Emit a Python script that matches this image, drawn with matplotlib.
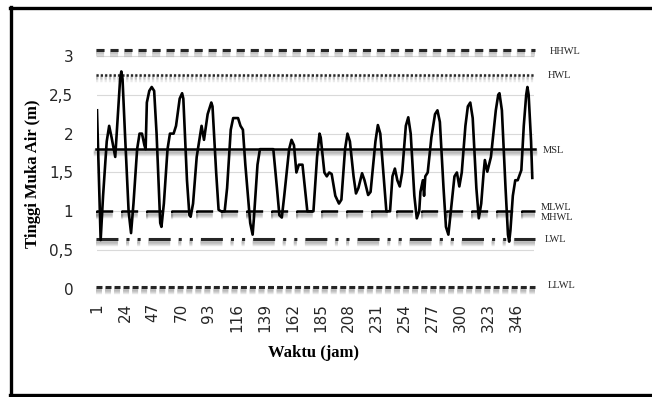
import numpy as np
import matplotlib.pyplot as plt
import matplotlib.patheffects as pe
from matplotlib.lines import Line2D

# tide record (hour, water level in m)
jam = [1, 4, 6, 9, 11, 13, 16, 18, 20, 21, 22, 24, 27, 29, 31, 34, 36, 38, 40, 41,
       42, 44, 46, 48, 50, 53, 54, 56, 59, 61, 64, 66, 69, 71, 72, 75, 77, 78, 80, 83,
       86, 87, 89, 92, 95, 96, 99, 101, 103, 106, 108, 111, 113, 117, 119, 121, 123, 127, 129, 130,
       133, 135, 146, 149, 151, 153, 155, 159, 161, 163, 165, 167, 170, 172, 174, 179, 182, 184, 185, 188,
       190, 192, 194, 197, 200, 202, 205, 207, 209, 212, 214, 216, 219, 221, 224, 226, 230, 232, 234, 237,
       239, 242, 244, 246, 248, 250, 252, 255, 257, 259, 262, 264, 266, 267, 269, 270, 271, 273, 276, 279,
       281, 283, 286, 288, 290, 292, 295, 297, 299, 301, 304, 306, 308, 310, 313, 315, 317, 319, 320, 322,
       325, 329, 331, 332, 334, 337, 339, 340, 341, 343, 345, 347, 350, 352, 354, 355, 356, 358, 359]
tinggi = [2.30, 0.63, 1.20, 1.90, 2.10, 1.95, 1.70, 2.20, 2.70, 2.80, 2.70, 2.00, 1.00, 0.72, 1.10, 1.80, 2.00, 2.00, 1.85, 1.80,
          2.40, 2.55, 2.60, 2.55, 2.00, 0.85, 0.80, 1.10, 1.80, 2.00, 2.00, 2.10, 2.45, 2.52, 2.45, 1.40, 0.95, 0.93, 1.10, 1.70,
          2.00, 2.10, 1.92, 2.25, 2.40, 2.35, 1.50, 1.02, 1.00, 1.00, 1.30, 2.05, 2.20, 2.20, 2.10, 2.05, 1.60, 0.85, 0.70, 0.90,
          1.60, 1.80, 1.80, 1.30, 0.95, 0.92, 1.20, 1.80, 1.92, 1.85, 1.50, 1.60, 1.60, 1.30, 1.00, 1.00, 1.70, 2.00, 1.95, 1.50,
          1.45, 1.50, 1.48, 1.20, 1.10, 1.15, 1.80, 2.00, 1.90, 1.45, 1.23, 1.30, 1.49, 1.40, 1.21, 1.25, 1.90, 2.11, 2.00, 1.40,
          1.00, 1.00, 1.45, 1.55, 1.40, 1.32, 1.50, 2.10, 2.21, 2.00, 1.20, 0.91, 1.00, 1.25, 1.40, 1.20, 1.45, 1.50, 1.95, 2.25,
          2.30, 2.15, 1.30, 0.80, 0.70, 1.00, 1.45, 1.50, 1.32, 1.50, 2.10, 2.35, 2.40, 2.20, 1.30, 0.91, 1.10, 1.50, 1.66, 1.51,
          1.70, 2.30, 2.50, 2.52, 2.30, 1.30, 0.70, 0.61, 0.75, 1.20, 1.40, 1.40, 1.53, 2.10, 2.50, 2.60, 2.50, 1.90, 1.43]

# tidal datum levels (m)
ref_names = ["HHWL", "HWL", "MSL", "MLWL", "MHWL", "LWL", "LLWL"]
ref_levels = [3.08, 2.76, 1.80, 1.00, 0.99, 0.64, 0.02]

xticks = list(range(1, 360, 23))
yticks = [0, 0.5, 1, 1.5, 2, 2.5, 3]
ytick_labels = ["0", "0,5", "1", "1,5", "2", "2,5", "3"]

plt.rcParams['lines.scale_dashes'] = False

W, H = 652, 397
fig = plt.figure(figsize=(W / 100, H / 100), dpi=100)
ax = fig.add_axes([97 / W, (H - 296.8) / H, 436.5 / W, 264.2 / H])
ax.set_xlim(1, 360)
ax.set_ylim(-0.1, 3.3)

for y in yticks[1:]:
    ax.axhline(y, color='#d9d9d9', lw=0.8, zorder=1)

# soft grey drop shadow like the Excel line effect
shadow = [pe.SimpleLineShadow(offset=(0, -d), shadow_color='0.35', alpha=0.12, linewidth=3.2)
          for d in (1.2, 2.0, 2.8, 3.6)] + [pe.Normal()]
styles = {
    "HHWL": dict(color='#262626', lw=2.2, dashes=(5.8, 4.3)),
    "HWL": dict(color='#262626', lw=1.8, dashes=(1.6, 1.5)),
    "MSL": dict(color='black', lw=1.8),
    "MLWL": dict(color='black', lw=1.8, dashes=(12, 6)),
    "MHWL": dict(color='black', lw=1.4, dashes=(1.5, 16.5)),
    "LWL": dict(color='#262626', lw=2.2, dashes=(15.8, 5.8, 2.2, 5.8, 2.2, 5.8)),
    "LLWL": dict(color='#262626', lw=2.2, dashes=(4.3, 2.2)),
}
for name, lvl in zip(ref_names, ref_levels):
    ax.plot([0, 361], [lvl, lvl], clip_on=False, zorder=2,
            path_effects=shadow, **styles[name])

ax.plot(jam, tinggi, color='black', lw=1.9, zorder=3, solid_joinstyle='round')

ax.set_xticks(xticks)
ax.set_xticklabels([str(t) for t in xticks], rotation=90, fontsize=11, color='#262626')
ax.set_yticks(yticks)
ax.set_yticklabels(ytick_labels, fontsize=11, color='#262626')
ax.tick_params(axis='x', length=0, pad=4.5)
ax.tick_params(axis='y', length=0, pad=17)
for s in ax.spines.values():
    s.set_visible(False)

fig.text(313 / W, 1 - 353 / H, "Waktu (jam)", ha='center', va='center',
         family='Liberation Serif', weight='bold', fontsize=12)
fig.text(33 / W, 1 - 174 / H, "Tinggi Muka Air (m)", ha='center', va='center', rotation=90,
         family='Liberation Serif', weight='bold', fontsize=12)

# datum names to the right of the plot
label_pos = {"HHWL": (550, 51), "HWL": (548, 75), "MSL": (543, 150), "MLWL": (541, 207),
             "MHWL": (541, 218), "LWL": (545, 239), "LLWL": (548, 285)}
for name in ref_names:
    px, py = label_pos[name]
    fig.text(px / W, 1 - py / H, name, ha='left', va='center',
             family='Liberation Serif', fontsize=7.5, color='#262626')

# outer frame (no right edge in the picture)
for xs, ys in [([11, 11], [7, 395]), ([10, W], [7.5, 7.5]), ([10, W], [395, 395])]:
    fig.add_artist(Line2D([x / W for x in xs], [1 - y / H for y in ys],
                          color='black', lw=2.4, transform=fig.transFigure))

fig.savefig("out.png", dpi=100)
